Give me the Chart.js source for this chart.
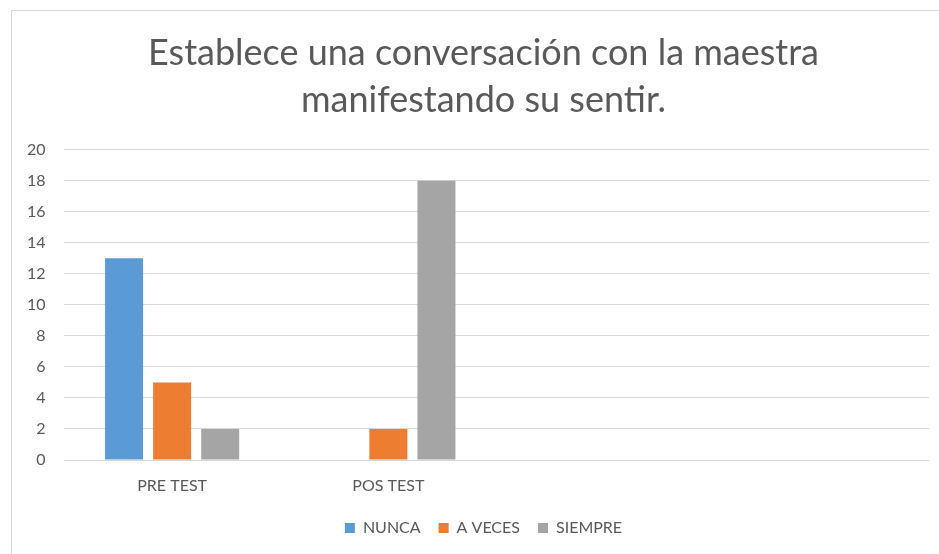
<!DOCTYPE html>
<html>
<head>
<meta charset="utf-8">
<script src="https://cdn.jsdelivr.net/npm/chart.js@4/dist/chart.umd.min.js"></script>
<style>
  html, body { margin: 0; padding: 0; background: #fff; overflow: hidden; }
  #frame { position: absolute; left: 11px; top: 10px; width: 960px; height: 600px; border: 1px solid #d9d9d9; box-sizing: border-box; }
  #wrap { position: absolute; left: 0; top: 0; width: 939px; height: 554px; }
</style>
</head>
<body>
<div id="frame"></div>
<div id="wrap"><canvas id="chart"></canvas></div>
<script>
// datos
const categorias = ['PRE TEST', 'POS TEST', '', ''];
const nunca = [13, 0, null, null];
const aVeces = [5, 2, null, null];
const siempre = [2, 18, null, null];
const titulo = ['Establece una conversación con la maestra', 'manifestando su sentir.'];

const FONT = 'Lato, "Open Sans", sans-serif';
const GRIS_TEXTO = '#595959';

new Chart(document.getElementById('chart'), {
  type: 'bar',
  data: {
    labels: categorias,
    datasets: [
      { label: 'NUNCA', data: nunca, backgroundColor: '#5B9BD5' },
      { label: 'A VECES', data: aVeces, backgroundColor: '#ED7D31' },
      { label: 'SIEMPRE', data: siempre, backgroundColor: '#A5A5A5' }
    ]
  },
  options: {
    responsive: true,
    maintainAspectRatio: false,
    animation: false,
    datasets: { bar: { categoryPercentage: 0.667, barPercentage: 0.79 } },
    layout: { padding: { left: 38, right: 10, top: 10, bottom: 8 } },
    plugins: {
      title: {
        display: true,
        text: titulo,
        color: GRIS_TEXTO,
        font: { family: FONT, size: 36, weight: 'normal', lineHeight: 1.3 },
        padding: { top: 20, bottom: 26 }
      },
      legend: {
        position: 'bottom',
        labels: { color: GRIS_TEXTO, font: { family: FONT, size: 16 }, boxWidth: 10, boxHeight: 10, padding: 18 }
      },
      tooltip: { enabled: false }
    },
    scales: {
      x: {
        grid: { display: false },
        border: { display: false },
        ticks: { color: GRIS_TEXTO, font: { family: FONT, size: 16 }, padding: 8 },
        afterFit: s => { s.height = 42; }
      },
      y: {
        min: 0,
        max: 20,
        // mirror + padding negativo: etiquetas a la izquierda sin recorte
        ticks: { stepSize: 2, color: GRIS_TEXTO, font: { family: FONT, size: 16 }, mirror: true, crossAlign: 'far', padding: -37 },
        grid: { color: '#d9d9d9', drawTicks: false },
        border: { display: false },
        afterFit: s => { s.width = 26; }
      }
    }
  }
});
</script>
</body>
</html>
